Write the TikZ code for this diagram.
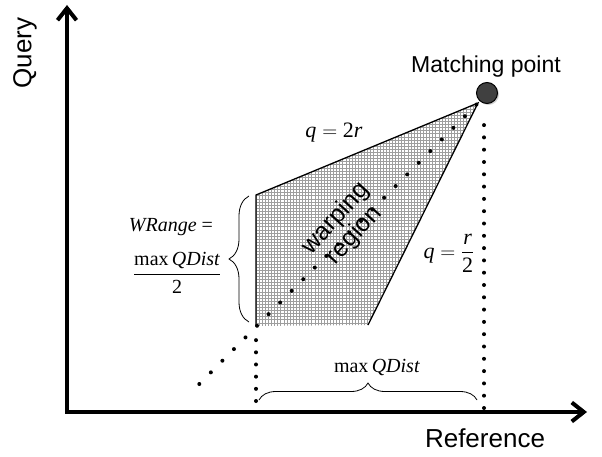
\documentclass[tikz,border=0pt]{standalone}
\usepackage{amsmath}
\usepackage{fontspec}
\setmainfont{Liberation Serif}
\newfontfamily\labelfont{Liberation Sans}
\usetikzlibrary{arrows.meta,decorations.pathreplacing,shadows}
\newcommand{\mvar}[1]{\mbox{\itshape #1}}
\newcommand{\mtxt}[1]{\mbox{#1}}
\tikzset{
  axisline/.style={line width=4pt, line join=miter},
  axistip/.tip={Straight Barb[length=12pt,width=19pt]},
  axislabel/.style={font=\labelfont\fontsize{26}{30}\selectfont, inner sep=0pt},
  pointlabel/.style={font=\labelfont\fontsize{23}{27}\selectfont, inner sep=0pt},
  mathlabel/.style={font=\fontsize{20}{23}\selectfont, inner sep=0pt},
  eqlabel/.style={font=\fontsize{22}{25}\selectfont, inner sep=0pt},
  gridline/.style={draw=black!38, line width=0.75pt},
  regionline/.style={draw=black, line width=1.3pt},
  dotline/.style={line width=4pt, line cap=round},
  bracestyle/.style={draw=black, line width=0.8pt, decorate}
}
\begin{document}
\begin{tikzpicture}[x=1pt, y=-1pt]
% canvas of the reference
\useasboundingbox (0,0) rectangle (602,457);
% corners of the warping region
\coordinate (O) at (67,412);
\coordinate (tl) at (256,195);
\coordinate (bl) at (256,326);
\coordinate (br) at (368,325);
\coordinate (mp) at (478,103);
\coordinate (dstart) at (199.3,384);
% Grid fill of the region
\begin{scope}
  \clip (tl) -- (mp) -- (br) -- (bl) -- cycle;
  \fill[white] (250,95) rectangle (485,330);
  \foreach \x in {256,259.1,...,482} \draw[gridline] (\x,95) -- (\x,330);
  \foreach \y in {326,322.9,...,97} \draw[gridline] (250,\y) -- (485,\y);
\end{scope}
% Outline (bottom edge left open)
\draw[regionline] (bl) -- (tl) -- (mp) -- (br);
% Axes
\draw[axisline, axistip-axistip] (67,5) -- (O) -- (587,412);
% Dotted lines
\draw[dotline, dash pattern=on 0pt off 16.4pt] (dstart) -- (mp);
\draw[dotline, dash pattern=on 0pt off 12.17pt] (256,401) -- (256,328);
\draw[dotline, dash pattern=on 0pt off 12.3pt] (484,408) -- (484,113);
% Matching point
\node[circle, draw=black, line width=1pt, fill=black!75, minimum size=21pt, inner sep=0pt,
  drop shadow={shadow xshift=1.5pt, shadow yshift=-1.5pt, fill=black!35}] (match) at (487,93) {};
% Braces
\draw[bracestyle, decoration={brace, amplitude=20pt}] (249,322) -- (249,196);
\draw[bracestyle, decoration={brace, amplitude=17pt}] (259,400) -- (477,400);
% Labels
\node[axislabel, rotate=90] (query) at (25,53) {Query};
\node[axislabel] (reference) at (485,438) {Reference};
\node[pointlabel] (matchlabel) at (486,67) {Matching point};
\node[eqlabel] (upper) at (334,133) {$\mvar{q} = \mtxt{2}\mvar{r}$};
\node[eqlabel] (lower) at (449,253) {$\mvar{q} = \dfrac{\mvar{r}}{\mtxt{2}}$};
\node[mathlabel] (wrange) at (171,227) {\textit{WRange} =};
\node[mathlabel] (wfrac) at (177,273) {$\dfrac{\mtxt{max\,\itshape QDist}}{\mtxt{2}}$};
\node[mathlabel] (qdist) at (377,367) {max\,\textit{QDist}};
\node[font=\labelfont\fontsize{25}{25}\selectfont, rotate=48, align=center, inner sep=0pt]
  (warp) at (345,227) {warping\\region};
\end{tikzpicture}
\end{document}
